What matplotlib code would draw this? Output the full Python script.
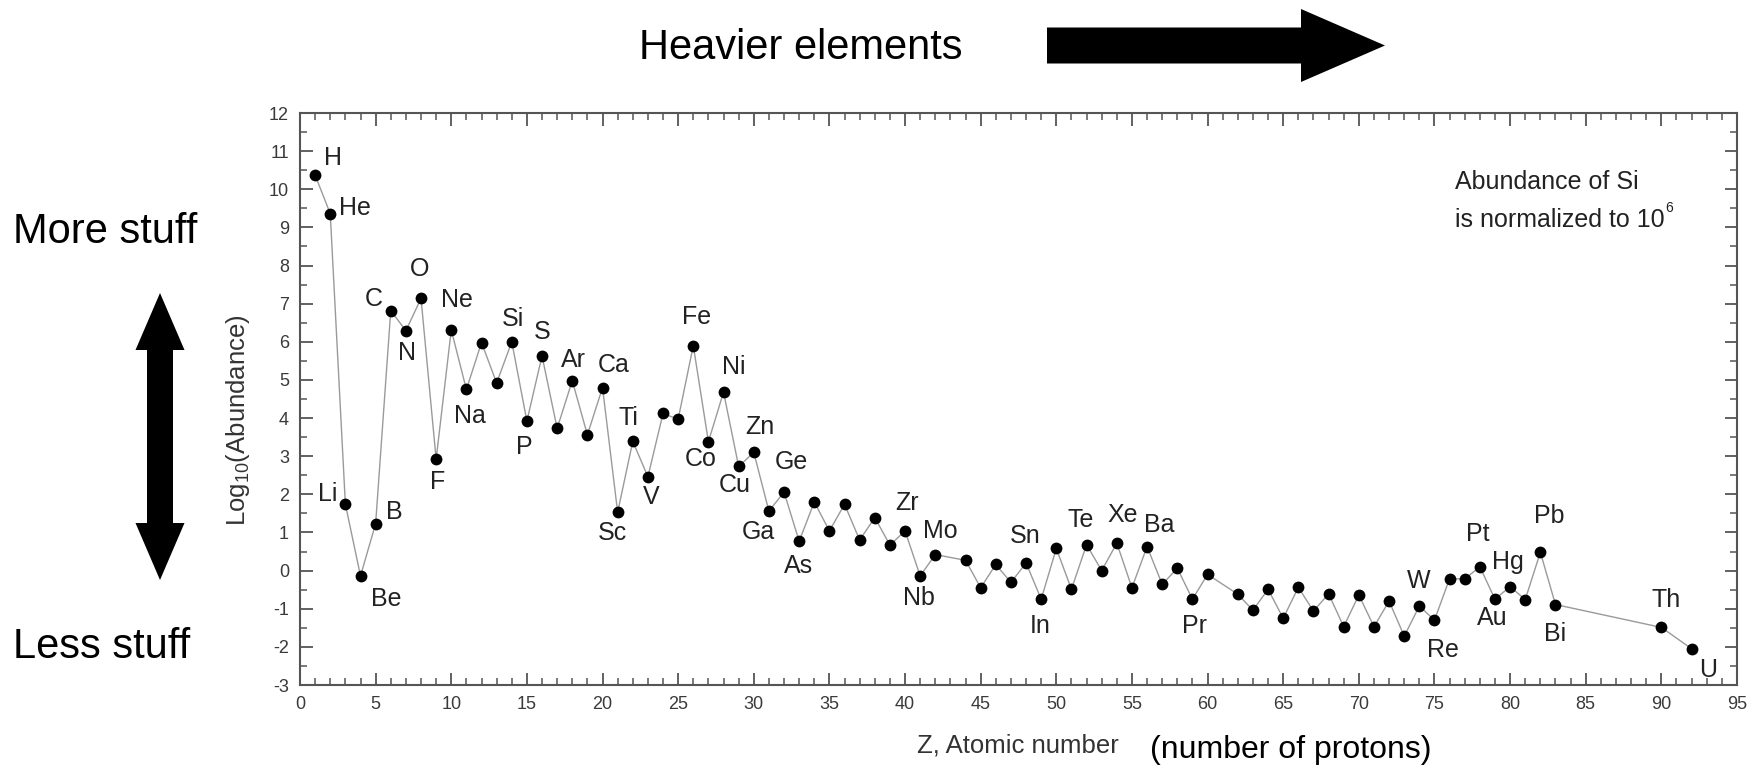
import matplotlib
matplotlib.use("Agg")
import matplotlib.pyplot as plt
from matplotlib.patches import FancyArrow, Polygon
from matplotlib.ticker import MultipleLocator

plt.rcParams['font.family'] = ['Liberation Sans', 'DejaVu Sans']
plt.rcParams['mathtext.fontset'] = 'custom'
plt.rcParams['mathtext.rm'] = 'Liberation Sans'
plt.rcParams['mathtext.it'] = 'Liberation Sans:italic'
plt.rcParams['axes.unicode_minus'] = False

# solar system abundances, log10 with Si = 10^6
z = [1, 2, 3, 4, 5, 6, 7, 8, 9, 10,
     11, 12, 13, 14, 15, 16, 17, 18, 19, 20,
     21, 22, 23, 24, 25, 26, 27, 28, 29, 30,
     31, 32, 33, 34, 35, 36, 37, 38, 39, 40,
     41, 42, 44, 45, 46, 47, 48, 49, 50,
     51, 52, 53, 54, 55, 56, 57, 58, 59, 60,
     62, 63, 64, 65, 66, 67, 68, 69, 70,
     71, 72, 73, 74, 75, 76, 77, 78, 79, 80,
     81, 82, 83, 90, 92]
log_abund = [10.37, 9.36, 1.74, -0.14, 1.23, 6.82, 6.29, 7.14, 2.92, 6.31,
             4.75, 5.98, 4.92, 6.00, 3.92, 5.63, 3.73, 4.98, 3.56, 4.80,
             1.53, 3.39, 2.46, 4.12, 3.97, 5.90, 3.38, 4.68, 2.73, 3.10,
             1.56, 2.06, 0.77, 1.80, 1.04, 1.74, 0.80, 1.39, 0.67, 1.04,
             -0.14, 0.42, 0.27, -0.45, 0.16, -0.31, 0.20, -0.75, 0.58,
             -0.49, 0.68, 0.00, 0.72, -0.45, 0.63, -0.36, 0.06, -0.75, -0.10,
             -0.62, -1.04, -0.49, -1.25, -0.44, -1.06, -0.61, -1.47, -0.64,
             -1.47, -0.80, -1.72, -0.93, -1.30, -0.21, -0.22, 0.10, -0.75, -0.42,
             -0.76, 0.48, -0.89, -1.49, -2.05]
symbols = ['H', 'He', 'Li', 'Be', 'B', 'C', 'N', 'O', 'F', 'Ne',
           'Na', 'Mg', 'Al', 'Si', 'P', 'S', 'Cl', 'Ar', 'K', 'Ca',
           'Sc', 'Ti', 'V', 'Cr', 'Mn', 'Fe', 'Co', 'Ni', 'Cu', 'Zn',
           'Ga', 'Ge', 'As', 'Se', 'Br', 'Kr', 'Rb', 'Sr', 'Y', 'Zr',
           'Nb', 'Mo', 'Ru', 'Rh', 'Pd', 'Ag', 'Cd', 'In', 'Sn',
           'Sb', 'Te', 'I', 'Xe', 'Cs', 'Ba', 'La', 'Ce', 'Pr', 'Nd',
           'Sm', 'Eu', 'Gd', 'Tb', 'Dy', 'Ho', 'Er', 'Tm', 'Yb',
           'Lu', 'Hf', 'Ta', 'W', 'Re', 'Os', 'Ir', 'Pt', 'Au', 'Hg',
           'Tl', 'Pb', 'Bi', 'Th', 'U']

# where each named element's label sits relative to its dot (pixels)
label_offset = {
    'H': (18, 17), 'He': (25, 6), 'Li': (-18, 10), 'Be': (26, -23),
    'B': (19, 12), 'C': (-17, 12), 'N': (1, -22), 'O': (-1, 29),
    'F': (1, -23), 'Ne': (6, 30), 'Na': (4, -27), 'Si': (1, 23),
    'P': (-3, -26), 'S': (0, 24), 'Ar': (1, 21), 'Ca': (11, 23),
    'Sc': (-5, -21), 'Ti': (-4, 23), 'V': (3, -20), 'Fe': (3, 29),
    'Co': (-8, -17), 'Ni': (10, 25), 'Cu': (-4, -19), 'Zn': (6, 25),
    'Ga': (-11, -21), 'Ge': (7, 30), 'As': (-1, -25), 'Zr': (2, 28),
    'Nb': (-1, -22), 'Mo': (5, 24), 'Sn': (-31, 12), 'In': (-1, -27),
    'Te': (-6, 25), 'Xe': (6, 28), 'Ba': (12, 22), 'Pr': (2, -27),
    'W': (-1, 25), 'Re': (8, -30), 'Pt': (-2, 33), 'Au': (-3, -19),
    'Hg': (-2, 25), 'Pb': (9, 36), 'Bi': (0, -29), 'Th': (5, 27),
    'U': (17, -21),
}

W, H = 1751, 766
fig = plt.figure(figsize=(W / 100, H / 100), dpi=100)
ax = fig.add_axes([300 / W, 81 / H, 1437 / W, 572 / H])

ax.plot(z, log_abund, color='#9a9a9a', lw=1.0, zorder=2)
ax.plot(z, log_abund, 'o', color='black', ms=8.5, mew=0, zorder=3)

for zi, vi, s in zip(z, log_abund, symbols):
    if s in label_offset:
        ax.annotate(s, (zi, vi), xytext=label_offset[s], textcoords='offset pixels',
                    ha='center', va='center', fontsize=18, color='#222222')

ax.set_xlim(0, 95)
ax.set_ylim(-3, 12)
ax.xaxis.set_major_locator(MultipleLocator(5))
ax.xaxis.set_minor_locator(MultipleLocator(1))
ax.yaxis.set_major_locator(MultipleLocator(1))
ax.yaxis.set_minor_locator(MultipleLocator(0.5))
ax.tick_params(which='both', direction='in', top=True, right=True,
               color='#555555', labelcolor='#3a3a3a', labelsize=13, pad=8)
ax.tick_params(which='major', length=9, width=1.3)
ax.tick_params(which='minor', length=5, width=1.1)
for sp in ax.spines.values():
    sp.set_color('#555555')
    sp.set_linewidth(1.5)

# overlay in figure pixels for the captions and arrows
ov = fig.add_axes([0, 0, 1, 1], facecolor='none')
ov.set_xlim(0, W)
ov.set_ylim(H, 0)
ov.axis('off')

ov.text(1455, 182, 'Abundance of Si', fontsize=18, color='#222222',
        ha='left', va='center')
norm = ov.text(1455, 220, 'is normalized to 10', fontsize=18, color='#222222',
               ha='left', va='center')
ov.annotate('6', xy=(1, 0.7), xycoords=norm, xytext=(1, 0),
            textcoords='offset pixels', fontsize=10, color='#222222',
            ha='left', va='bottom')

ov.text(238, 420, 'Log$_{\\mathrm{10}}$(Abundance)', rotation=90, ha='center',
        va='center', fontsize=18.5, color='#333333')
ov.text(1018, 746, 'Z, Atomic number', ha='center', va='center',
        fontsize=18.5, color='#333333')
ov.text(1150, 750, '(number of protons)', ha='left', va='center', fontsize=23)
ov.text(639, 48, 'Heavier elements', ha='left', va='center', fontsize=30)
ov.text(13, 232, 'More stuff', ha='left', va='center', fontsize=30)
ov.text(13, 647, 'Less stuff', ha='left', va='center', fontsize=30)

ov.add_patch(FancyArrow(1047, 45.5, 338, 0, width=36, head_width=73,
                        head_length=84, length_includes_head=True,
                        color='black', lw=0))

# double-headed vertical arrow as one outline
cx, top, bot = 160, 293, 580
sw, hw, hl = 13, 24.5, 57
ov.add_patch(Polygon([(cx, top), (cx + hw, top + hl), (cx + sw, top + hl),
                      (cx + sw, bot - hl), (cx + hw, bot - hl), (cx, bot),
                      (cx - hw, bot - hl), (cx - sw, bot - hl),
                      (cx - sw, top + hl), (cx - hw, top + hl)],
                     closed=True, color='black', lw=0))

fig.savefig('out.png', dpi=100)
